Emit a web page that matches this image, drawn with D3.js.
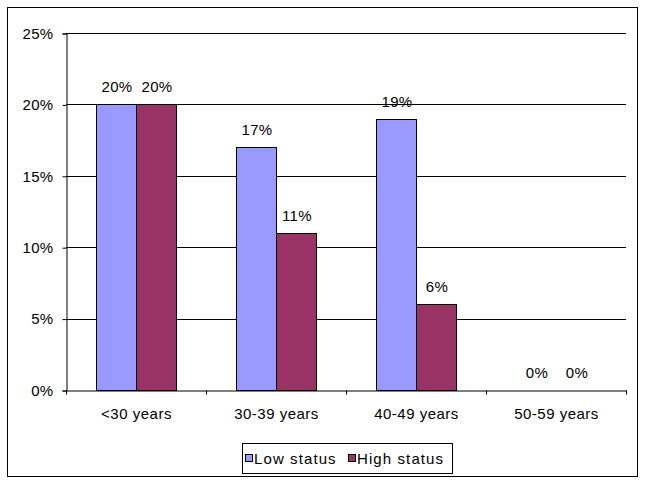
<!DOCTYPE html>
<html>
<head>
<meta charset="utf-8">
<script src="https://cdn.jsdelivr.net/npm/d3@7"></script>
<style>
  html, body { margin: 0; padding: 0; background: #fff; }
  svg { display: block; }
  text { font-family: Arial, "Liberation Sans", sans-serif; font-size: 15px; fill: #000; }
</style>
</head>
<body>
<svg id="chart" width="645" height="483"></svg>
<script>
const categories = ["<30 years", "30-39 years", "40-49 years", "50-59 years"];
const seriesNames = ["Low status", "High status"];
const lowStatus = [0.20, 0.17, 0.19, 0.00];
const highStatus = [0.20, 0.11, 0.06, 0.00];
const yTicks = [0, 0.05, 0.10, 0.15, 0.20, 0.25];
const colors = ["#9999FF", "#993366"];

const svg = d3.select("#chart");

// outer border
svg.append("rect").attr("x", 7.5).attr("y", 7.5).attr("width", 630).attr("height", 469)
  .attr("fill", "#fff").attr("stroke", "#000").attr("stroke-width", 1);

const plot = { left: 66, right: 626, top: 33, bottom: 390 };
const y = d3.scaleLinear().domain([0, 0.25]).range([plot.bottom, plot.top]);
const x0 = d3.scaleBand().domain(categories).range([plot.left, plot.right]).padding(0);
const x1 = d3.scaleBand().domain(seriesNames).range([0, x0.bandwidth()]).paddingOuter(0.75).paddingInner(0);

const fmt = d3.format(".0%");

// gridlines
svg.append("g").selectAll("line").data(yTicks.filter(t => t > 0)).join("line")
  .attr("x1", plot.left).attr("x2", plot.right)
  .attr("y1", d => Math.round(y(d)) + 0.5).attr("y2", d => Math.round(y(d)) + 0.5)
  .attr("stroke", "#000").attr("stroke-width", 1);

// bars
const data = categories.map((c, i) => ({ cat: c, vals: [lowStatus[i], highStatus[i]] }));
const groups = svg.append("g").selectAll("g").data(data).join("g")
  .attr("transform", d => `translate(${x0(d.cat)},0)`);

groups.selectAll("rect").data(d => d.vals.map((v, j) => ({ v, j })).filter(e => e.v > 0)).join("rect")
  .attr("x", e => Math.round(x1(seriesNames[e.j])) + 0.5)
  .attr("y", e => Math.round(y(e.v)) + 0.5)
  .attr("width", x1.bandwidth())
  .attr("height", e => Math.round(y(0)) - Math.round(y(e.v)))
  .attr("fill", e => colors[e.j])
  .attr("stroke", "#000").attr("stroke-width", 1);

groups.selectAll("text").data(d => d.vals.map((v, j) => ({ v, j }))).join("text")
  .attr("x", e => x1(seriesNames[e.j]) + x1.bandwidth() / 2 + 1)
  .attr("y", e => y(e.v) - 12)
  .attr("text-anchor", "middle")
  .style("letter-spacing", "0.3px")
  .text(e => fmt(e.v));

// y axis
const yAxis = d3.axisLeft(y).tickValues(yTicks).tickFormat(fmt).tickSize(4).tickPadding(9);
const gy = svg.append("g").attr("transform", `translate(${plot.left + 0.5},0.5)`).call(yAxis);
gy.select(".domain").attr("stroke", "#000");
gy.selectAll(".tick line").attr("stroke", "#000");
gy.selectAll("text").attr("font-size", null).attr("font-family", null).attr("fill", "#000")
  .style("letter-spacing", "0.3px");

// x axis
const xAxis = d3.axisBottom(x0).tickSize(0).tickSizeOuter(0).tickPadding(18);
const gx = svg.append("g").attr("transform", `translate(0.5,${plot.bottom + 0.5})`).call(xAxis);
gx.select(".domain").attr("stroke", "#000");
gx.selectAll("text").attr("font-size", null).attr("font-family", null).attr("fill", "#000")
  .attr("dy", "0.71em").style("letter-spacing", "0.5px");
// boundary tick marks
const bounds = categories.map(c => x0(c)).concat([x0.range()[1]]);
gx.append("g").selectAll("line").data(bounds).join("line")
  .attr("x1", d => Math.round(d)).attr("x2", d => Math.round(d))
  .attr("y1", 0).attr("y2", 4).attr("stroke", "#000");

// legend
const leg = svg.append("g");
leg.append("rect").attr("x", 242.5).attr("y", 443.5).attr("width", 210).attr("height", 30)
  .attr("fill", "#fff").attr("stroke", "#000");
const legX = [245, 348];
const items = leg.selectAll("g.item").data(seriesNames).join("g").attr("class", "item")
  .attr("transform", (d, i) => `translate(${legX[i]},0)`);
items.append("rect").attr("x", 0.5).attr("y", 454.5).attr("width", 7).attr("height", 7)
  .attr("fill", (d, i) => colors[i]).attr("stroke", "#000");
items.append("text").attr("x", 9).attr("y", 464).style("letter-spacing", "1.1px").text(d => d);
</script>
</body>
</html>
